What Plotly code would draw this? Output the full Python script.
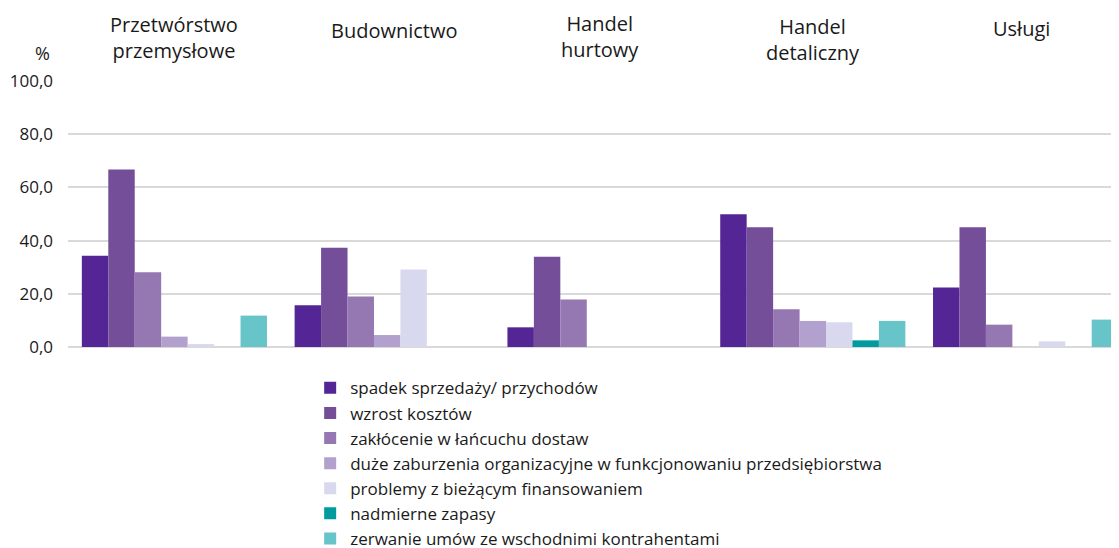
import plotly.graph_objects as go

categories = ["Przetwórstwo<br>przemysłowe", "Budownictwo", "Handel<br>hurtowy",
              "Handel<br>detaliczny", "Usługi"]
series_names = [
    "spadek sprzedaży/ przychodów",
    "wzrost kosztów",
    "zakłócenie w łańcuchu dostaw",
    "duże zaburzenia organizacyjne w funkcjonowaniu przedsiębiorstwa",
    "problemy z bieżącym finansowaniem",
    "nadmierne zapasy",
    "zerwanie umów ze wschodnimi kontrahentami",
]
spadek = [34.3, 15.7, 7.4, 49.9, 22.4]
wzrost = [66.7, 37.3, 33.9, 45.0, 45.0]
zaklocenie = [28.1, 19.0, 17.9, 14.2, 8.4]
duze = [3.9, 4.5, 0.0, 9.8, 0.0]
problemy = [1.1, 29.1, 0.0, 9.3, 2.1]
nadmierne = [0.0, 0.0, 0.0, 2.5, 0.0]
zerwanie = [11.8, 0.0, 0.0, 9.8, 10.3]
series_values = [spadek, wzrost, zaklocenie, duze, problemy, nadmierne, zerwanie]
colors = ["#542594", "#754e99", "#9577b2", "#b2a0cf", "#d8d9ee", "#009b9e", "#67c4c8"]
y_ticks = [0, 20, 40, 60, 80, 100]
y_tick_labels = ["0,0", "20,0", "40,0", "60,0", "80,0", "100,0"]

FONT = "Open Sans"
TXT = "#1a1a1a"

# figure geometry (page is offset by the 8px body margin)
W, H = 1124, 560
L, T = 60, 73
H_PLOT = 266
W_PLOT = W - L
B = H - T - H_PLOT

fig = go.Figure()
for name, vals, col in zip(series_names, series_values, colors):
    fig.add_trace(go.Bar(x=list(range(len(categories))), y=vals, name=name,
                         marker=dict(color=col, line=dict(width=0))))

# category labels on top
label_top_px = [1.0, 6.5, 0.0, 3.0, 4.8]
label_xshift = [0, 7, 0, 0, -4]
for i, (cat, ty, xs) in enumerate(zip(categories, label_top_px, label_xshift)):
    fig.add_annotation(x=i, xref="x", y=1 + (T - ty) / H_PLOT, yref="paper",
                       yanchor="top", xanchor="center", text=cat, showarrow=False,
                       xshift=xs, font=dict(family=FONT, size=20, color=TXT))

fig.add_annotation(x=(34 - L) / W_PLOT, xref="paper", xanchor="center",
                   y=1 + (T - 45) / H_PLOT, yref="paper", yanchor="middle",
                   text="%", showarrow=False, font=dict(family=FONT, size=18, color=TXT))

fig.update_layout(
    width=W, height=H,
    margin=dict(l=L, r=0, t=T, b=B, pad=0),
    paper_bgcolor="white", plot_bgcolor="white",
    barmode="group", bargap=0.13, bargroupgap=0,
    font=dict(family=FONT, color=TXT),
    showlegend=True,
    legend=dict(x=0.2276, y=-0.0876, xanchor="left", yanchor="top",
                font=dict(family=FONT, size=17, color=TXT),
                bgcolor="rgba(0,0,0,0)", itemwidth=30, traceorder="normal",
                itemclick=False),
    xaxis=dict(range=[-0.5, 4.5], showticklabels=False, showgrid=False,
               zeroline=False, showline=False, ticks=""),
    yaxis=dict(range=[0, 100], tickvals=y_ticks, ticktext=y_tick_labels,
               showgrid=True, gridcolor="#d9d9d9", gridwidth=1.5, zeroline=True,
               zerolinecolor="#d9d9d9", zerolinewidth=1.5, showline=False, ticks="",
               ticklabelstandoff=14,
               tickfont=dict(family=FONT, size=17, color=TXT)),
)

fig.write_html("out.html")
